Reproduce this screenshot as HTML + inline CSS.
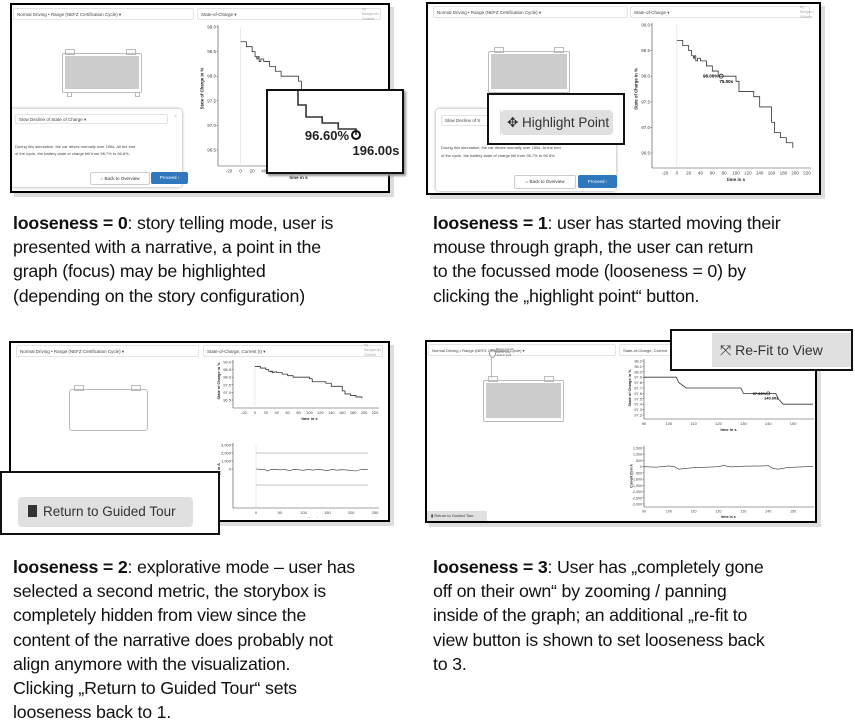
<!DOCTYPE html>
<html><head><meta charset="utf-8"><style>
body{margin:0;width:855px;height:724px;background:#fff;position:relative;overflow:hidden;font-family:"Liberation Sans",sans-serif}
.abs{position:absolute}
.shot{position:absolute;background:#fff;border:2px solid #000;box-shadow:4px 4px 0 #ddd;overflow:hidden}
.dd{position:absolute;border:1px solid #e4e4e4;border-radius:2px;font-size:4.5px;color:#444;padding:1px 3px;box-sizing:border-box;height:12px;line-height:9px}
.cap{position:absolute;font-size:17.8px;line-height:24.2px;color:#111;white-space:nowrap;letter-spacing:-0.2px}
.cap b{font-weight:bold}
.callout{position:absolute;background:#fff;border:2px solid #111;box-shadow:2px 2px 2px #999}
.btn{position:absolute;background:#e0e0e0;border-radius:4px;color:#333;white-space:nowrap}
svg text{font-family:"Liberation Sans",sans-serif}
</style></head><body>
<script>
// ---- chart data ----
const socTimes=[0,10,20,25,28,30,32,35,40,50,60,70,90,100,105,120,130,140,145,160,165,170,175,180,185,190,196];
const socVals=[98.7,98.6,98.5,98.4,98.35,98.4,98.3,98.35,98.3,98.2,98.1,98.0,98.0,97.9,97.7,97.7,97.6,97.4,97.4,97.1,96.9,96.9,96.8,96.8,96.7,96.7,96.6];
const socTicks=[99.0,98.5,98.0,97.5,97.0,96.5];
const timeTicks=[-20,0,20,40,60,80,100,120,140,160,180,200,220];
const curTimes=[0,10,20,25,30,40,50,60,70,80,90,100,110,120,130,140,150,160,170,180,190,200,210,220,235];
const curVals=[0,-50,-100,-250,-80,-40,-120,-60,-200,-50,-100,-160,-60,-150,-40,-120,-200,-60,-150,-90,-120,-200,-250,-80,-20];
const curTicks=[3000,2000,1000,0];
const curTimeTicks=[0,50,100,150,200,250];
const zTimes=[90,100,103,104,107,120,129,130,143,144,146,158];
const zVals=[97.9,97.9,97.9,97.8,97.7,97.7,97.7,97.6,97.6,97.5,97.4,97.4];
const zSocTicks=[98.2,98.1,98.0,97.9,97.8,97.7,97.6,97.5,97.4,97.3,97.2];
const zTimeTicks=[90,100,110,120,130,140,150];
const zCurTimes=[90,95,100,102,104,106,110,120,122,125,130,138,140,142,144,148,158];
const zCurVals=[0,-40,60,20,-200,-150,-80,0,100,-20,40,60,80,-150,-200,-60,20];
const zCurTicks=[1500,1000,500,0,-500,-1000,-1500,-2000,-2500,-3000];
</script>

<!-- Panel 1 -->
<div class="shot" style="left:10px;top:3px;width:376px;height:186px">
  <div class="dd" style="left:1px;top:3px;width:181px">Normal Driving • Range (NEFZ Certification Cycle) ▾</div>
  <div class="dd" style="left:185px;top:3px;width:184px">State-of-Charge ▾</div>
  <div class="abs" style="left:350px;top:1px;font-size:4px;color:#aaa;line-height:5px">by<br>Benjamin<br>Söllner</div>
  <div class="abs" style="left:50px;top:48px;width:78px;height:38px;border:1px solid #bbb;border-radius:2px;background:#fff"><div style="margin:2px;height:33px;background:#ccc"></div></div>
  <div class="abs" style="left:53px;top:44px;width:8px;height:4px;border:1px solid #bbb"></div>
  <div class="abs" style="left:114px;top:44px;width:8px;height:4px;border:1px solid #bbb"></div>
  <div class="abs" style="left:55px;top:87px;width:3px;height:3px;border:1px solid #bbb"></div>
  <div class="abs" style="left:123px;top:87px;width:3px;height:3px;border:1px solid #bbb"></div>
  <div class="abs" style="left:-2px;top:104px;width:172px;height:78px;background:#fff;box-shadow:0 0 3px #999;border-radius:3px">
    <div class="dd" style="left:5px;top:5px;width:153px;height:10px;line-height:7px">Slow Decline of State of Charge ▾</div>
    <div class="abs" style="left:164px;top:5px;font-size:5px;color:#aaa">×</div>
    <div class="abs" style="left:5px;top:34px;font-size:4px;color:#444;line-height:7px;white-space:nowrap">During this simulation, the car drives normally over 196s. All the end<br>of the cycle, the battery state of charge fell from 98.7% to 96.6%.</div>
    <div class="abs" style="left:80px;top:63px;width:58px;height:11px;border:1px solid #ccc;border-radius:2px;font-size:4.5px;line-height:11px;text-align:center;color:#333">⌂ Back to Overview</div>
    <div class="abs" style="left:141px;top:63px;width:37px;height:12px;background:#2f78bd;border-radius:2px;font-size:4.5px;line-height:12px;text-align:center;color:#fff">Proceed ›</div>
  </div>
  <svg id="c1" class="abs" style="left:180px;top:14px" width="196" height="170"></svg>
</div>
<div class="callout" style="left:266px;top:89px;width:134px;height:81px;overflow:hidden">
  <svg id="cz" width="134" height="81"></svg>
</div>

<!-- Panel 2 -->
<div class="shot" style="left:426px;top:2px;width:391px;height:189px">
  <div class="dd" style="left:5px;top:2px;width:195px">Normal Driving • Range (NEFZ Certification Cycle) ▾</div>
  <div class="dd" style="left:202px;top:2px;width:180px">State-of-Charge ▾</div>
  <div class="abs" style="left:372px;top:0px;font-size:4px;color:#aaa;line-height:5px">by<br>Benjam<br>Söllner</div>
  <div class="abs" style="left:60px;top:47px;width:80px;height:40px;border:1px solid #bbb;border-radius:2px"><div style="margin:2px;height:35px;background:#ccc"></div></div>
  <div class="abs" style="left:66px;top:43px;width:8px;height:4px;border:1px solid #bbb"></div>
  <div class="abs" style="left:126px;top:43px;width:8px;height:4px;border:1px solid #bbb"></div>
  <div class="abs" style="left:8px;top:105px;width:180px;height:82px;background:#fff;box-shadow:0 0 3px #999;border-radius:3px">
    <div class="dd" style="left:5px;top:6px;width:60px;height:11px;line-height:8px">Slow Decline of S</div>
    <div class="abs" style="left:5px;top:35px;font-size:4px;color:#444;line-height:8px;white-space:nowrap">During this simulation, the car drives normally over 196s. At the end<br>of the cycle, the battery state of charge fell from 98.7% to 96.6%.</div>
    <div class="abs" style="left:78px;top:66px;width:60px;height:12px;border:1px solid #ccc;border-radius:2px;font-size:4.5px;line-height:12px;text-align:center;color:#333">⌂ Back to Overview</div>
    <div class="abs" style="left:142px;top:66px;width:39px;height:13px;background:#2f78bd;border-radius:2px;font-size:4.5px;line-height:13px;text-align:center;color:#fff">Proceed ›</div>
  </div>
  <svg id="c2" class="abs" style="left:190px;top:13px" width="200" height="176"></svg>
</div>
<div class="callout" style="left:487px;top:93px;width:134px;height:48px;box-shadow:none">
  <div class="btn" style="left:12px;top:15px;width:112px;height:25px;font-size:13.5px;line-height:25px;text-indent:6px">✥ Highlight Point</div>
  <div class="abs" style="left:0;top:15px;width:11px;height:25px;border-right:1px solid #ddd"></div>
</div>

<!-- Panel 3 -->
<div class="shot" style="left:9px;top:341px;width:377px;height:177px">
  <div class="dd" style="left:5px;top:2px;width:183px">Normal Driving • Range (NEFZ Certification Cycle) ▾</div>
  <div class="dd" style="left:192px;top:2px;width:180px">State-of-Charge, Current (I) ▾</div>
  <div class="abs" style="left:353px;top:-1px;font-size:4px;color:#aaa;line-height:5px">by<br>Benjamin<br>Söllner</div>
  <div class="abs" style="left:58px;top:46px;width:77px;height:40px;border:1px solid #bbb;border-radius:3px"></div>
  <div class="abs" style="left:63px;top:42px;width:8px;height:4px;border:1px solid #bbb"></div>
  <div class="abs" style="left:120px;top:42px;width:8px;height:4px;border:1px solid #bbb"></div>
  <svg id="c3" class="abs" style="left:192px;top:12px" width="185" height="70"></svg>
  <svg id="c4" class="abs" style="left:192px;top:95px" width="185" height="80"></svg>
</div>
<div class="callout" style="left:0;top:471px;width:216px;height:60px;box-shadow:none">
  <div class="btn" style="left:16px;top:24px;width:175px;height:30px;font-size:13.5px;line-height:30px;text-indent:10px"><span style="display:inline-block;width:9px;height:12px;background:#333;vertical-align:-1px;margin-right:6px"></span>Return to Guided Tour</div>
</div>

<!-- Panel 4 -->
<div class="shot" style="left:425px;top:340px;width:388px;height:179px">
  <div class="dd" style="left:1px;top:2px;width:188px;font-size:4px">Normal Driving • Range (NEFZ Certification Cycle) ▾</div>
  <div class="dd" style="left:192px;top:2px;width:150px;font-size:4px">State-of-Charge, Current</div>
  <div class="abs" style="left:62px;top:7px;width:5px;height:7px;border:1px solid #999;border-radius:50%"></div>
  <div class="abs" style="left:69px;top:6px;font-size:2.5px;color:#555;line-height:3px">Battery Current I<br>2000 in [unit]<br>-2100 in [unit]</div>
  <div class="abs" style="left:64px;top:16px;width:0;height:20px;border-left:1px solid #bbb"></div>
  <div class="abs" style="left:56px;top:38px;width:79px;height:40px;border:1px solid #bbb;border-radius:2px"><div style="margin:2px;height:35px;background:#ccc"></div></div>
  <div class="abs" style="left:61px;top:34px;width:8px;height:4px;border:1px solid #bbb"></div>
  <div class="abs" style="left:117px;top:34px;width:8px;height:4px;border:1px solid #bbb"></div>
  <svg id="c5" class="abs" style="left:187px;top:16px" width="200" height="78"></svg>
  <svg id="c6" class="abs" style="left:187px;top:103px" width="200" height="76"></svg>
  <div class="abs" style="left:0;top:169px;width:60px;height:10px;background:#e0e0e0;font-size:4px;line-height:10px;color:#333;text-indent:4px">▮ Return to Guided Tour</div>
</div>
<div class="callout" style="left:670px;top:329px;width:179px;height:38px;box-shadow:none">
  <div class="btn" style="left:40px;top:2px;width:139px;height:34px;font-size:14px;line-height:34px;text-indent:8px;border-radius:0">⤧ Re-Fit to View</div>
</div>

<!-- Captions -->
<div class="cap" style="left:13px;top:211px"><b>looseness = 0</b>: story telling mode, user is<br>presented with a narrative, a point in the<br>graph (focus) may be highlighted<br>(depending on the story configuration)</div>
<div class="cap" style="left:433px;top:211px"><b>looseness = 1</b>: user has started moving their<br>mouse through graph, the user can return<br>to the focussed mode (looseness = 0) by<br>clicking the „highlight point“ button.</div>
<div class="cap" style="left:13px;top:555px"><b>looseness = 2</b>: explorative mode – user has<br>selected a second metric, the storybox is<br>completely hidden from view since the<br>content of the narrative does probably not<br>align anymore with the visualization.<br>Clicking „Return to Guided Tour“ sets<br>looseness back to 1.</div>
<div class="cap" style="left:433px;top:555px"><b>looseness = 3</b>: User has „completely gone<br>off on their own“ by zooming / panning<br>inside of the graph; an additional „re-fit to<br>view button is shown to set looseness back<br>to 3.</div>

<script>
const NS='http://www.w3.org/2000/svg';
function mk(svg,tag,attrs,text){const e=document.createElementNS(NS,tag);for(const k in attrs)e.setAttribute(k,attrs[k]);if(text!==undefined)e.textContent=text;svg.appendChild(e);return e;}
function lin(d0,d1,r0,r1){return v=>r0+(v-d0)/(d1-d0)*(r1-r0);}
function chart(id,o){
  const svg=document.getElementById(id);
  const x=lin(o.xd[0],o.xd[1],o.xr[0],o.xr[1]);
  const y=lin(o.yd[0],o.yd[1],o.yr[0],o.yr[1]);
  const g=mk(svg,'g',{});
  
  
  mk(g,'line',{x1:o.ax,y1:o.yr[1]-2,x2:o.ax,y2:o.ay,stroke:'#444','stroke-width':0.6});
  mk(g,'line',{x1:o.ax,y1:o.ay,x2:o.xr[1]+4,y2:o.ay,stroke:'#444','stroke-width':0.6});
  if(o.zeroX!==undefined)mk(g,'line',{x1:x(o.zeroX),y1:o.yr[1],x2:x(o.zeroX),y2:o.ay,stroke:'#ddd','stroke-width':0.6});
  o.yt.forEach(t=>{const yy=y(t);
    const tl=mk(g,'text',{x:o.ax-2,y:yy+1.5,'font-size':o.fs,'text-anchor':'end',fill:'#444'},o.fmt?o.fmt(t):t.toFixed(1));
    
    
    mk(g,'line',{x1:o.ax-1.5,y1:yy,x2:o.ax,y2:yy,stroke:'#444','stroke-width':0.5});});
  o.xt.forEach(t=>{const xx=x(t);
    const tl=mk(g,'text',{x:xx,y:o.ay+o.fs+2,'font-size':o.fs,'text-anchor':'middle',fill:'#444'},t);
    
    });
  const xl=mk(g,'text',{x:(o.xr[0]+o.xr[1])/2,y:o.ay+2*o.fs+4,'font-size':o.fs,'font-weight':'bold','text-anchor':'middle',fill:'#222'},'time in s');
  
  
  if(o.ylab){const yl=mk(g,'text',{x:0,y:0,'font-size':o.fs*0.95,'font-weight':'bold','text-anchor':'middle',fill:'#222',transform:`translate(${o.ax-o.fs*3.2},${(o.yr[0]+o.yr[1])/2}) rotate(-90)`},o.ylab);
    
    }
  if(o.hl){o.hl.forEach(v=>mk(g,'line',{x1:x(0),y1:y(v),x2:x(235),y2:y(v),stroke:'#888','stroke-width':0.6}));}
  let d='';
  o.xs.forEach((t,i)=>{const px=x(t),py=y(o.ys[i]);
    if(i===0)d+=`M${px},${py}`;else d+=o.step?`H${px}V${py}`:`L${px},${py}`;});
  const p=mk(svg,'path',{d:d,fill:'none',stroke:'#333','stroke-width':o.sw||0.8});
  
  
  return {x,y,svg};
}
// Panel 1 chart
const r1=chart('c1',{xd:[-20,220],xr:[37,176],yd:[96.5,99.0],yr:[131,8],ax:26,ay:147,fs:4.5,xs:socTimes,ys:socVals,step:true,yt:socTicks,xt:timeTicks,ylab:'State of Charge in %',zeroX:0});
// Callout zoom (panel 1)
(function(){const svg=document.getElementById('cz');
  const x=lin(160,196,30,88),y=lin(98.0,96.6,-40,44);
  let d='';socTimes.forEach((t,i)=>{const px=x(t),py=y(socVals[i]);d+=i===0?`M${px},${py}`:`H${px}V${py}`;});
  const p=mk(svg,'path',{d:d,fill:'none',stroke:'#333','stroke-width':1.6});
  
  
  const li=socVals.length-1;
  const c=mk(svg,'circle',{cx:x(socTimes[li]),cy:y(socVals[li]),r:4,fill:'none',stroke:'#111','stroke-width':2});
  
  
  mk(svg,'text',{x:x(socTimes[li])-7,y:y(socVals[li])+5,'font-size':13,'font-weight':'bold','text-anchor':'end',fill:'#222'},socVals[li].toFixed(2)+'%');
  mk(svg,'text',{x:x(socTimes[li])+20,y:y(socVals[li])+20,'font-size':13,'font-weight':'bold','text-anchor':'middle',fill:'#222'},socTimes[li].toFixed(2)+'s');
})();
// Panel 2 chart
const r2=chart('c2',{xd:[-20,220],xr:[47,189],yd:[96.5,99.0],yr:[136,8],ax:34,ay:151,fs:4.5,xs:socTimes,ys:socVals,step:true,yt:socTicks,xt:timeTicks,ylab:'State of Charge in %',zeroX:0});
(function(){const t=75,v=98.0;const cx=r2.x(t),cy=r2.y(v);
  const c=mk(r2.svg,'circle',{cx:cx,cy:cy,r:2,fill:'none',stroke:'#222','stroke-width':0.8});
  
  
  mk(r2.svg,'text',{x:cx-3,y:cy+1.5,'font-size':4.5,'font-weight':'bold','text-anchor':'end'},v.toFixed(2)+'%');
  mk(r2.svg,'text',{x:cx+5,y:cy+7,'font-size':4.5,'font-weight':'bold','text-anchor':'middle'},t.toFixed(2)+'s');})();
// Panel 3 charts
chart('c3',{xd:[-20,220],xr:[41,172],yd:[96.5,99.0],yr:[45,7],ax:30,ay:53,fs:4,xs:socTimes,ys:socVals,step:true,yt:socTicks,xt:timeTicks,ylab:'State of Charge in %',zeroX:0});
chart('c4',{xd:[0,250],xr:[53,172],yd:[-3000,3000],yr:[55,7],ax:30,ay:70,fs:4,xs:curTimes,ys:curVals,step:false,yt:curTicks,xt:curTimeTicks,ylab:'(I) in A',fmt:v=>v.toLocaleString('en-US'),hl:[2000,-2000],zeroX:0,sw:0.6});
// Panel 4 charts
const r5=chart('c5',{xd:[90,158],xr:[30,199],yd:[97.2,98.2],yr:[57,3],ax:30,ay:61,fs:4,xs:zTimes,ys:zVals,step:false,yt:zSocTicks,xt:zTimeTicks,ylab:'State of Charge in %'});
(function(){const t=140,v=97.6;const cx=r5.x(t),cy=r5.y(v);
  mk(r5.svg,'circle',{cx:cx,cy:cy,r:1.6,fill:'none',stroke:'#222','stroke-width':0.6});
  mk(r5.svg,'text',{x:cx-2,y:cy+1.5,'font-size':4,'font-weight':'bold','text-anchor':'end'},v.toFixed(2)+'%');
  mk(r5.svg,'text',{x:cx+3,y:cy+6,'font-size':4,'font-weight':'bold','text-anchor':'middle'},t.toFixed(2)+'s');})();
chart('c6',{xd:[90,158],xr:[30,199],yd:[-3000,1500],yr:[59,3],ax:30,ay:62,fs:3.6,xs:zCurTimes,ys:zCurVals,step:false,yt:zCurTicks,xt:zTimeTicks,ylab:'Current (I) in A',fmt:v=>v.toLocaleString('en-US'),sw:0.6});
</script>
</body></html>
